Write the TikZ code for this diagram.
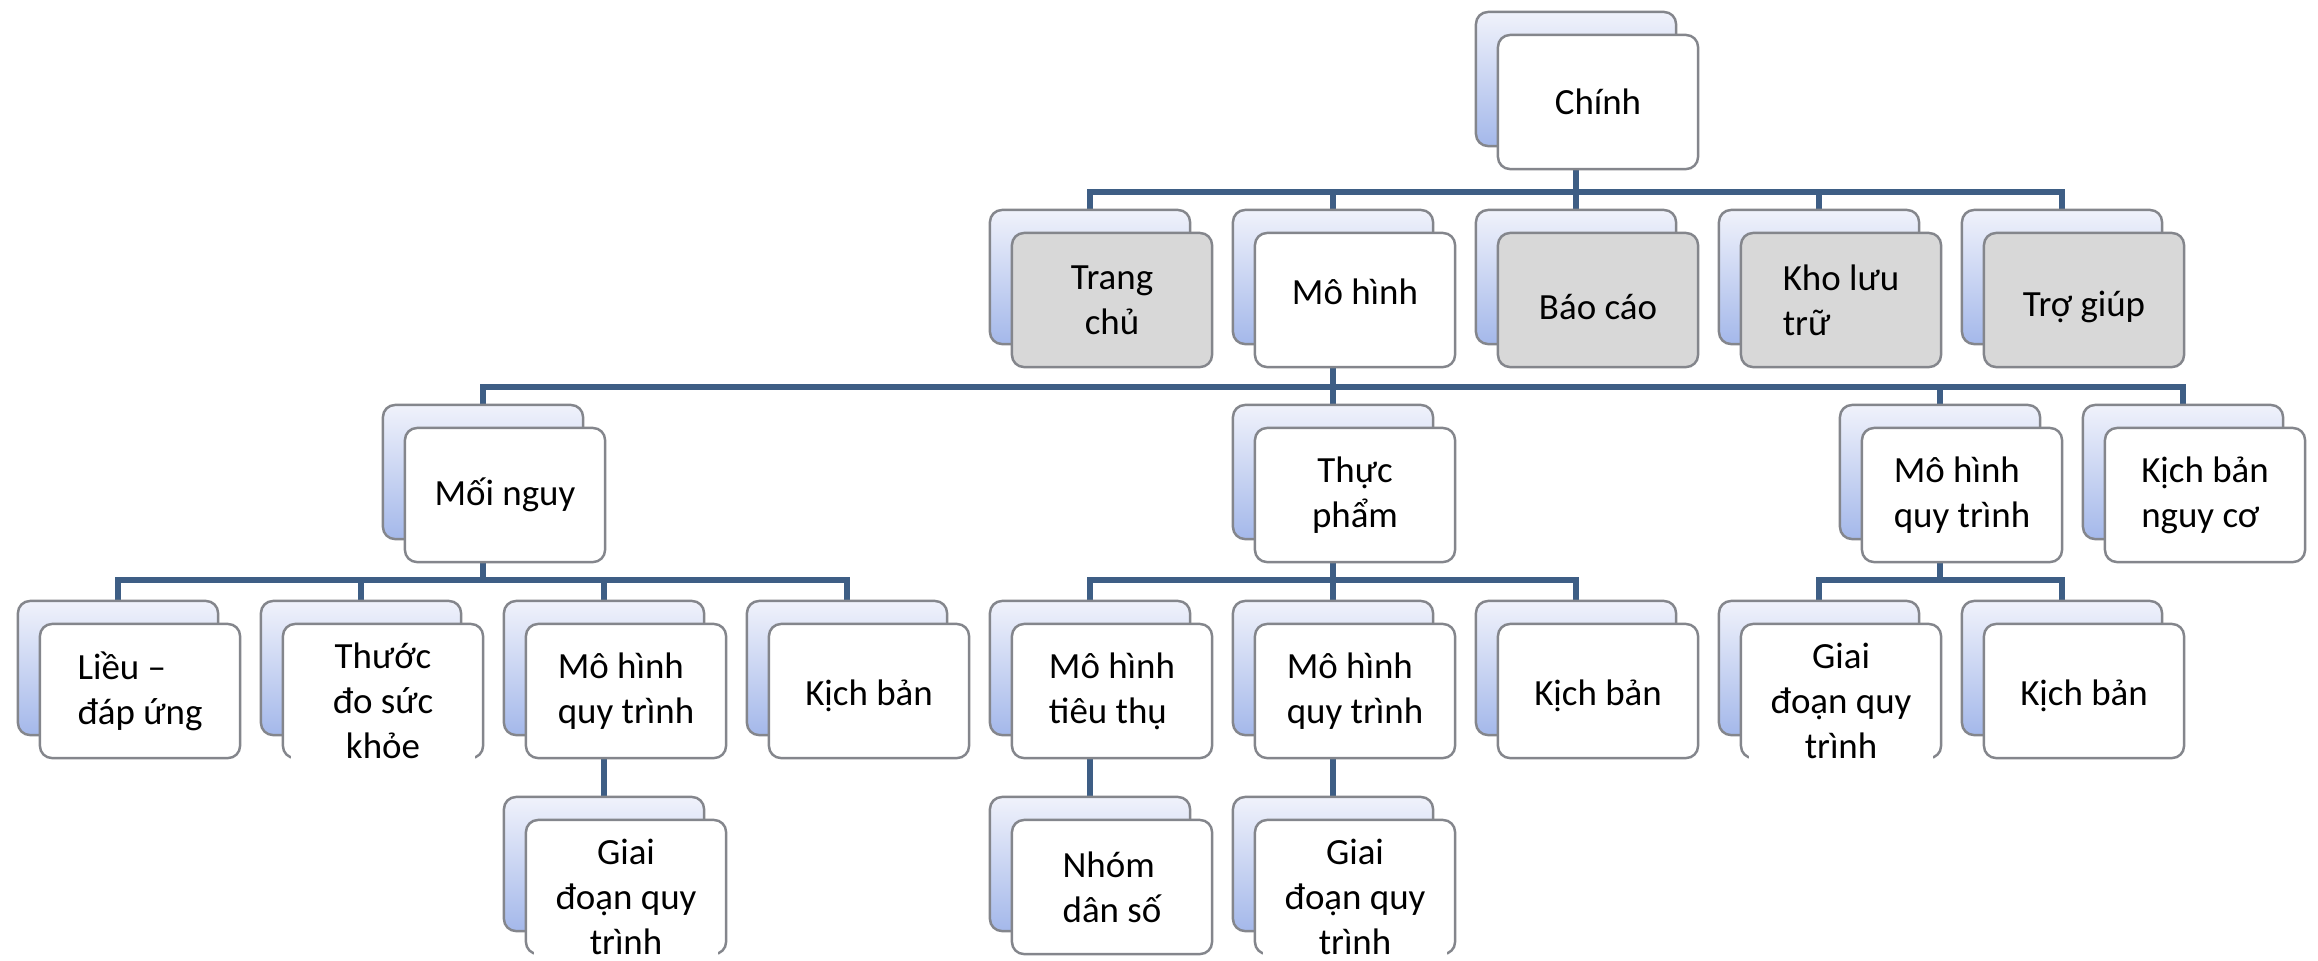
\documentclass[tikz,border=0pt]{standalone}
\usepackage{fontspec}
\setmainfont{Carlito}
\pgfdeclarelayer{background}
\pgfsetlayers{background,main}

\definecolor{linkblue}{RGB}{62,94,133}
\definecolor{edgegray}{RGB}{132,134,140}
\definecolor{cardgray}{RGB}{216,216,216}
\definecolor{backtop}{RGB}{240,242,251}
\definecolor{backbot}{RGB}{164,184,234}

\tikzset{
  cardbase/.style={draw=edgegray, line width=0.7pt, rounded corners=0.12cm,
    minimum width=2cm, minimum height=1.34cm, inner sep=0pt},
  card/.style={cardbase, fill=white, align=center,
    font=\fontsize{10.5}{12.8}\selectfont},
  greycard/.style={fill=cardgray},
  backcard/.style={cardbase, top color=backtop, bottom color=backbot},
  overtext/.style={fill=white, inner xsep=0pt, inner ysep=2pt, minimum width=1.84cm,
    align=center, font=\fontsize{10.5}{12.8}\selectfont, yshift=-0.1cm},
  link/.style={draw=linkblue, line width=1.5pt}
}

% a stacked card: back plate offset up-left, front card with its text
\newcommand\stackcard[5][]{%
  \node[backcard] (#2-b) at (#3-22,#4-23) {};
  \node[card,#1] (#2) at (#3,#4) {#5};
}
% move a label up or down inside its card without changing its size
\newcommand\nudge[2]{\raisebox{#1}[\height][\depth]{#2}}

\begin{document}
\begin{tikzpicture}[x=0.01cm, y=-0.01cm]
\useasboundingbox (0,0) rectangle (2318,960);

% level 1
\stackcard{chinh}{1598}{102}{Chính}

% level 2
\stackcard[greycard]{trang}{1112}{300}{Trang\\chủ}
\stackcard{mohinh}{1355}{300}{\nudge{0.08cm}{Mô hình}}
\stackcard[greycard]{baocao}{1598}{300}{\nudge{-0.07cm}{Báo cáo}}
\stackcard[greycard,align=left]{kho}{1841}{300}{Kho lưu\\trữ}
\stackcard[greycard]{trogiup}{2084}{300}{\nudge{-0.07cm}{Trợ giúp}}

% level 3
\stackcard{moinguy}{505}{495}{Mối nguy}
\stackcard{thucpham}{1355}{495}{Thực\\phẩm}
\stackcard[align=left]{mhqtc}{1962}{495}{Mô hình\\quy trình}
\stackcard[align=left]{kbnc}{2205}{495}{Kịch bản\\nguy cơ}

% level 4
\stackcard[align=left]{lieu}{140}{691}{Liều –\\đáp ứng}
\stackcard{thuoc}{383}{691}{}
\node[overtext] at (thuoc) {Thước\\đo sức\\khỏe};
\stackcard[align=left]{mhqta}{626}{691}{Mô hình\\quy trình}
\stackcard{kba}{869}{691}{\nudge{-0.05cm}{Kịch bản}}
\stackcard[align=left]{mhtt}{1112}{691}{Mô hình\\tiêu thụ}
\stackcard[align=left]{mhqtb}{1355}{691}{Mô hình\\quy trình}
\stackcard{kbb}{1598}{691}{\nudge{-0.05cm}{Kịch bản}}
\stackcard{gdc}{1841}{691}{}
\node[overtext] at (gdc) {Giai\\đoạn quy\\trình};
\stackcard{kbc}{2084}{691}{\nudge{-0.05cm}{Kịch bản}}

% level 5
\stackcard{gda}{626}{887}{}
\node[overtext] at (gda) {Giai\\đoạn quy\\trình};
\stackcard[align=left]{nhom}{1112}{887}{Nhóm\\dân số}
\stackcard{gdb}{1355}{887}{}
\node[overtext] at (gdb) {Giai\\đoạn quy\\trình};

% bus levels of the elbow connectors
\coordinate (busa) at (0,192);
\coordinate (busb) at (0,387);
\coordinate (busc) at (0,580);

\begin{pgfonlayer}{background}
  \foreach \c in {trang,mohinh,baocao,kho,trogiup}
    \draw[link] (chinh-b.south) -- (chinh-b.south |- busa) -| (\c-b.north);
  \foreach \c in {moinguy,thucpham,mhqtc,kbnc}
    \draw[link] (mohinh-b.south) -- (mohinh-b.south |- busb) -| (\c-b.north);
  \foreach \c in {lieu,thuoc,mhqta,kba}
    \draw[link] (moinguy-b.south) -- (moinguy-b.south |- busc) -| (\c-b.north);
  \foreach \c in {mhtt,mhqtb,kbb}
    \draw[link] (thucpham-b.south) -- (thucpham-b.south |- busc) -| (\c-b.north);
  \foreach \c in {gdc,kbc}
    \draw[link] (mhqtc-b.south) -- (mhqtc-b.south |- busc) -| (\c-b.north);
  \draw[link] (mhqta-b.south) -- (gda-b.north);
  \draw[link] (mhtt-b.south) -- (nhom-b.north);
  \draw[link] (mhqtb-b.south) -- (gdb-b.north);
\end{pgfonlayer}
\end{tikzpicture}
\end{document}
